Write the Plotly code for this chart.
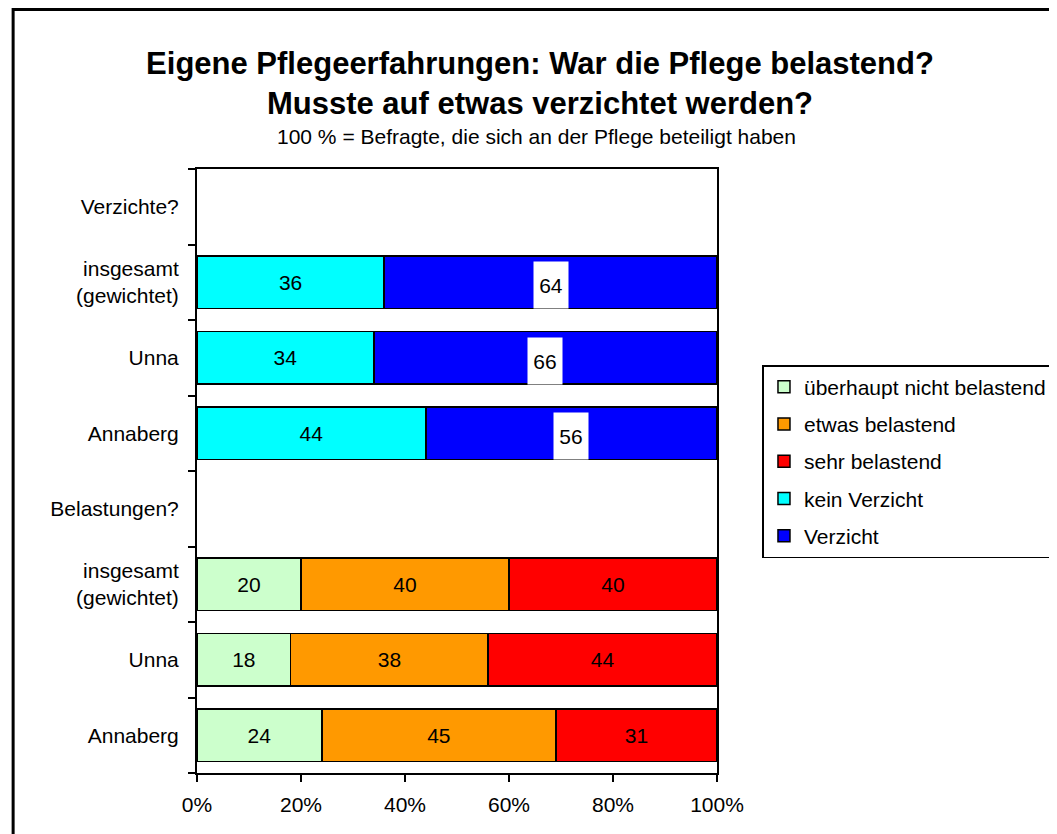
import plotly.graph_objects as go

# ---- data ----
categories = ["Verzichte?", "insgesamt<br>(gewichtet)", "Unna", "Annaberg",
              "Belastungen?", "insgesamt<br>(gewichtet)", "Unna", "Annaberg"]
ueberhaupt_nicht = [None, None, None, None, None, 20, 18, 24]
etwas = [None, None, None, None, None, 40, 38, 45]
sehr = [None, None, None, None, None, 40, 44, 31]
kein_verzicht = [None, 36, 34, 44, None, None, None, None]
verzicht = [None, 64, 66, 56, None, None, None, None]
x_ticks = [0, 20, 40, 60, 80, 100]
x_ticklabels = ["0%", "20%", "40%", "60%", "80%", "100%"]

FONT = "Liberation Sans, Arial, sans-serif"
ypos = list(range(len(categories)))

# plot-area geometry (figure pixels)
L, R, T, B = 189, 715, 161, 765
PW, PH = R - L, B - T

series = [
    ("überhaupt nicht belastend", ueberhaupt_nicht, "#CCFFCC", True),
    ("etwas belastend", etwas, "#FF9900", True),
    ("sehr belastend", sehr, "#FF0000", True),
    ("kein Verzicht", kein_verzicht, "#00FFFF", True),
    ("Verzicht", verzicht, "#0000FF", False),
]

fig = go.Figure()
for name, vals, color, show_text in series:
    fig.add_trace(go.Bar(
        y=ypos, x=vals, name=name, orientation="h",
        marker=dict(color=color, line=dict(color="black", width=1.5)),
        width=0.69,
        text=[("" if v is None else str(v)) for v in vals] if show_text else None,
        textposition="inside", insidetextanchor="middle",
        textfont=dict(family=FONT, size=21, color="black"),
        constraintext="none",
        legendgroup=name,
    ))

# labels with white background on the "Verzicht" segments
for i, (k, v) in enumerate(zip(kein_verzicht, verzicht)):
    if v is None:
        continue
    fig.add_annotation(
        x=k + v / 2, y=ypos[i], xref="x", yref="y", text=str(v),
        showarrow=False, bgcolor="white", width=32, height=44,
        borderpad=1, yshift=-3,
        font=dict(family=FONT, size=21, color="black"),
    )

fig.add_annotation(
    text="100 % = Befragte, die sich an der Pflege beteiligt haben",
    xref="paper", yref="paper", x=(532 - L) / PW, y=(B - 129) / PH,
    xanchor="center", yanchor="middle", showarrow=False,
    font=dict(family=FONT, size=21, color="black"),
)

# outer chart border (extends beyond the visible window on right/bottom)
fig.add_shape(type="rect", xref="paper", yref="paper",
              x0=(3 - L) / PW, x1=(1100 - L) / PW,
              y0=(B - 900) / PH, y1=(B - 1.5) / PH,
              line=dict(color="black", width=3), fillcolor="rgba(0,0,0,0)")

fig.update_layout(
    width=1057, height=834,
    margin=dict(l=L, r=1057 - R, t=T, b=834 - B),
    paper_bgcolor="white", plot_bgcolor="white",
    barmode="stack",
    showlegend=True,
    title=dict(
        text="<b>Eigene Pflegeerfahrungen: War die Pflege belastend?<br>Musste auf etwas verzichtet werden?</b>",
        x=532 / 1057, xanchor="center", xref="container",
        y=1 - 66 / 834, yanchor="middle", yref="container",
        font=dict(family=FONT, size=31, color="black"),
    ),
    legend=dict(
        x=(761 - L) / PW, y=(B - 357) / PH, xanchor="left", yanchor="top",
        bordercolor="black", borderwidth=1.5, bgcolor="white",
        font=dict(family=FONT, size=21, color="black"),
        traceorder="grouped", tracegroupgap=7,
    ),
    font=dict(family=FONT, size=21, color="black"),
)

fig.update_xaxes(
    range=[0, 100], tickvals=x_ticks, ticktext=x_ticklabels,
    ticks="outside", ticklen=7, tickwidth=2, tickcolor="black",
    ticklabelstandoff=5,
    showline=True, linecolor="black", linewidth=2, mirror=True,
    showgrid=False, zeroline=False,
    tickfont=dict(family=FONT, size=21, color="black"),
)
fig.update_yaxes(
    range=[len(categories) - 0.5, -0.5],
    tickmode="array", tickvals=ypos, ticktext=categories,
    ticks="", ticklabelstandoff=12,
    minor=dict(tickmode="array",
               tickvals=[p - 0.5 for p in ypos] + [ypos[-1] + 0.5],
               ticks="outside", ticklen=7, tickwidth=2, tickcolor="black",
               showgrid=False),
    showline=True, linecolor="black", linewidth=2, mirror=True,
    showgrid=False, zeroline=False,
    tickfont=dict(family=FONT, size=21, color="black"),
)

fig.write_html("out.html")
